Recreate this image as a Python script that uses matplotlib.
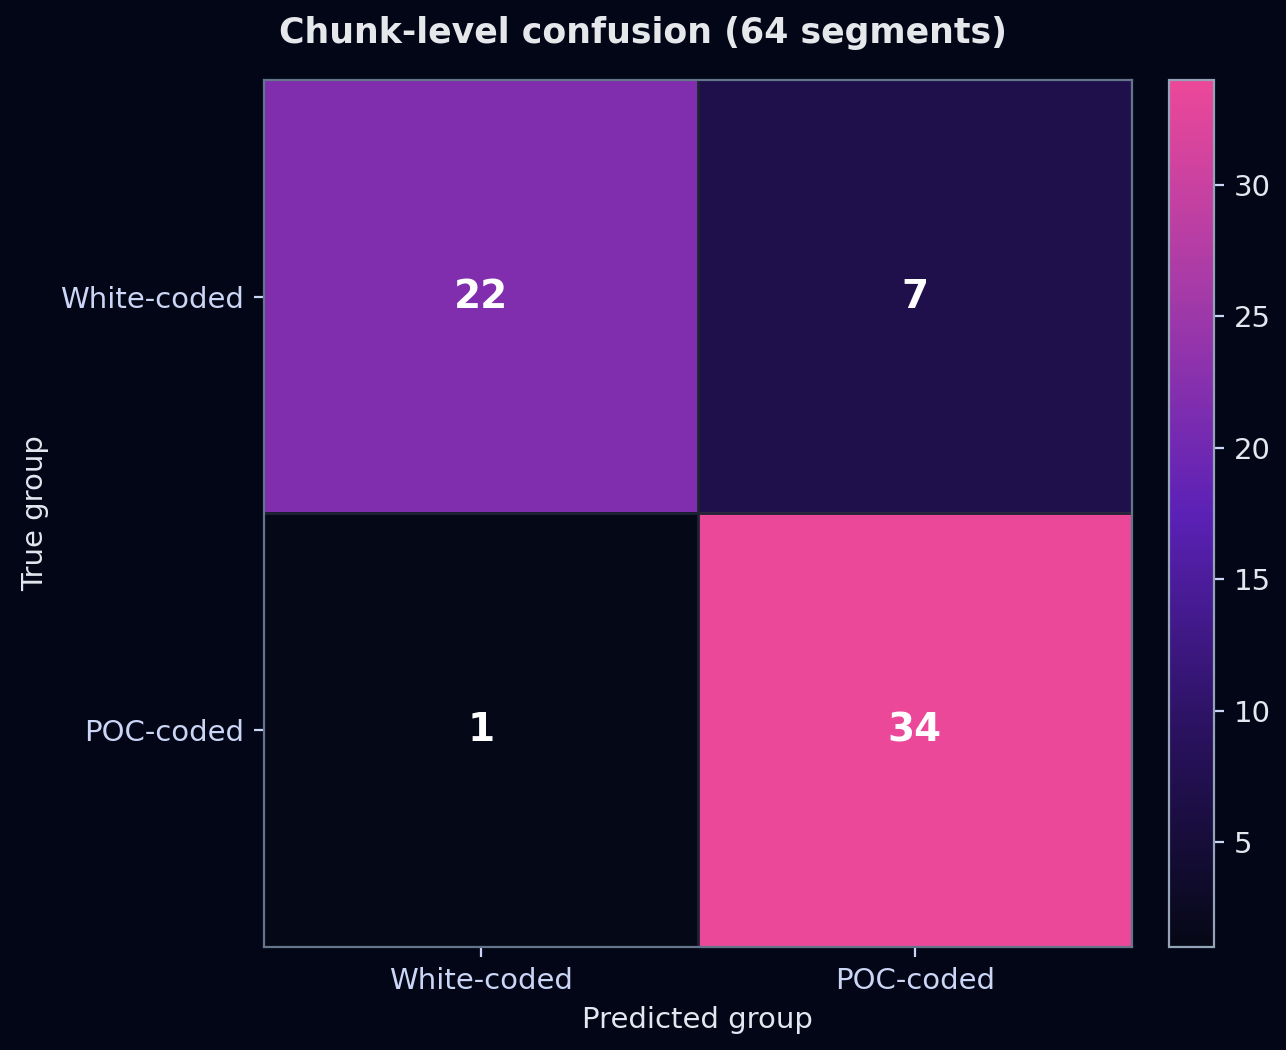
import matplotlib
matplotlib.use("Agg")
import matplotlib.pyplot as plt
import numpy as np
from matplotlib.colors import LinearSegmentedColormap

labels = ["White-coded", "POC-coded"]
matrix = np.array([[22, 7], [1, 34]])

bg = "#030617"
cmap = LinearSegmentedColormap.from_list("c", ["#050816", "#2a1260", "#5b21b6", "#a33aa8", "#ec4899"])

fig = plt.figure(figsize=(6.43, 5.25), dpi=200, facecolor=bg)
ax = fig.add_axes([0.205, 0.098, 0.675, 0.826])
cax = fig.add_axes([0.909, 0.098, 0.035, 0.826])
ax.set_facecolor(bg)
im = ax.imshow(matrix, cmap=cmap, vmin=matrix.min(), vmax=matrix.max(), aspect="auto")
for i in range(2):
    for j in range(2):
        ax.text(j, i, str(matrix[i, j]), ha="center", va="center", color="white",
                fontsize=14, fontweight="bold")
# cell separators
ax.axhline(0.5, color="#1e2235", lw=1)
ax.axvline(0.5, color="#1e2235", lw=1)
ax.set_xticks([0, 1], labels)
ax.set_yticks([0, 1], labels)
ax.tick_params(colors="#cbd5f5", labelsize=10.5, labelcolor="#cbd5f5")
ax.set_xlabel("Predicted group", color="#e2e8f0", fontsize=10.5)
ax.set_ylabel("True group", color="#e2e8f0", fontsize=10.5)
for s in ax.spines.values():
    s.set_color("#64748b")
fig.suptitle("Chunk-level confusion (64 segments)", color="#e5e7eb", fontsize=12.5,
             fontweight="bold", y=0.985)
cb = fig.colorbar(im, cax=cax)
cb.set_ticks([5, 10, 15, 20, 25, 30])
cb.ax.tick_params(colors="#cbd5f5", labelsize=10.5, labelcolor="#e2e8f0")
cb.outline.set_edgecolor("#94a3b8")
fig.savefig("out.png", dpi=200, facecolor=bg)
